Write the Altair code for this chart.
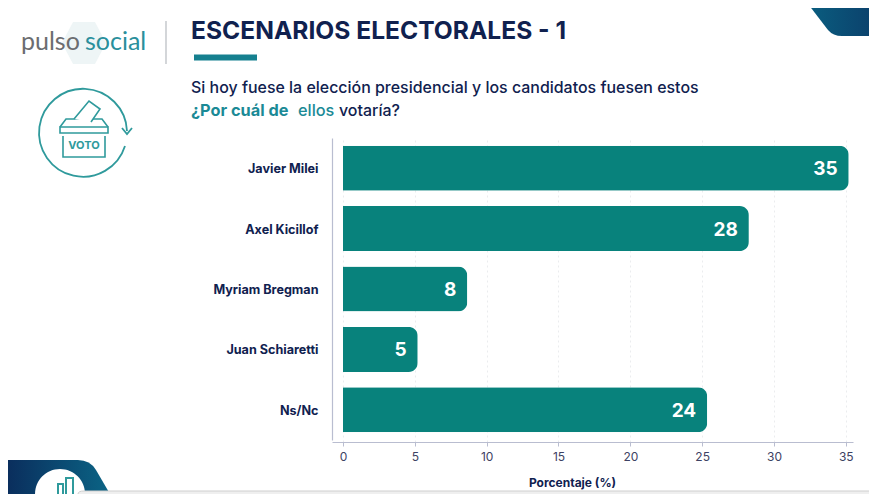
import altair as alt

names = ["Javier Milei", "Axel Kicillof", "Myriam Bregman", "Juan Schiaretti", "Ns/Nc"]
bar_lengths = [35.2, 28.25, 8.65, 5.2, 25.35]
value_labels = ["35", "28", "8", "5", "24"]
ticks = [0, 5, 10, 15, 20, 25, 30, 35]

NAVY = "#10214f"
TEAL = "#08827c"
ICON = "#2f9a9c"
FONT = "Inter"

# page position of the plot area's top-left corner
PX, PY = 332, 138
def px(v): return alt.value(v - PX)
def py(v): return alt.value(v - PY)
blank = alt.Data(values=[{"k": 1}])

def label(txt, x, y, size, color, weight="normal", align="left", font=FONT):
    return alt.Chart(blank).mark_text(text=txt, fontSize=size, color=color, fontWeight=weight,
                                      align=align, baseline="middle", font=font).encode(x=px(x), y=py(y))

def path(d, fill=None, stroke=None, width=1.0, opacity=1.0):
    kw = dict(shape=d, size=4, opacity=opacity, strokeWidth=width)
    kw["fill"] = fill if fill is not None else "transparent"
    kw["stroke"] = stroke if stroke is not None else "transparent"
    return alt.Chart(blank).mark_point(**kw).encode(x=px(0), y=py(0))

top_grad = alt.Gradient(gradient="linear", x1=0, x2=1, y1=0, y2=0,
                        stops=[alt.GradientStop(color="#0a5f80", offset=0), alt.GradientStop(color="#0b3f6b", offset=1)])
bot_grad = alt.Gradient(gradient="linear", x1=0, x2=1, y1=0, y2=0,
                        stops=[alt.GradientStop(color="#0a2a5a", offset=0), alt.GradientStop(color="#0b6485", offset=1)])

decor = [
    path("M805 0 L877 0 L877 36 L842 36 Q833 36 828 30 Z", fill=top_grad),
    path("M0 460 L78 460 Q90 460 96 470 L110 494 L0 494 Z", fill=bot_grad),
    path("M35 494 A25 25 0 0 1 85 494 Z", fill="#ffffff"),
    path("M58 494 L58 484 L63 484 L63 494 M66 494 L66 478 L73 478 L73 494", stroke=ICON, width=2),
    path("M78 494 L78 496 L877 496 L877 494 Q877 491 872 491 L84 491 Q78 491 78 494 Z", fill="#efefef", stroke="#cfcfcf"),
    # logo
    path("M73 22 L95 22 L106 43 L95 64 L73 64 L62 43 Z", fill="#eef5f6"),
    label("pulso", 21, 42, 25, "#6b6d70", font="Lato"),
    label("social", 85, 42, 25, "#2a8f9c", font="Lato"),
    path("M166 21 L166 64", stroke="#c9ccd0", width=1.6),
    # voting icon
    path("M125 146 A44 44 0 1 1 127 131", stroke=ICON, width=1.8),
    path("M122 128 L127 134 L132 128", stroke=ICON, width=1.8),
    path("M63 136 L63 157 L105 157 L105 136", stroke=ICON, width=1.6),
    path("M60 127 L108 127 L108 133 L60 133 Z", stroke=ICON, width=1.6),
    path("M60 127 L66 119 L102 119 L108 127", stroke=ICON, width=1.6),
    path("M74 119 L89 101 L100 109 L91 122", fill="#ffffff", stroke=ICON, width=1.6),
    label("VOTO", 84, 146, 11, ICON, "bold", "center"),
    # headings
    label("ESCENARIOS ELECTORALES - 1", 191, 32, 24.6, NAVY, "bold"),
    path("M194 57.5 L257 57.5", stroke="#15808f", width=6),
    label("Si hoy fuese la elección presidencial y los candidatos fuesen estos", 191, 88, 15.95, NAVY, 500),
    label("¿Por cuál de", 191, 111, 16.3, "#1b8a96", "bold"),
    label("ellos", 298, 111, 16.3, "#1b8a96", 500),
    label("votaría?", 339, 111, 15.95, NAVY, 500),
]

rows = alt.Data(values=[{"name": n, "bar": b, "lab": l} for n, b, l in zip(names, bar_lengths, value_labels)])

x_scale = alt.Scale(domain=[-0.765, 35.5], nice=False, zero=False)
y_scale = alt.Scale(domain=names, range=[0, 302])

x_axis = alt.Axis(values=ticks, title="Porcentaje (%)", grid=True, gridColor="#e6e7ea", gridDash=[2, 3],
                  gridWidth=0.8, domainColor="#b9bdd0", domainWidth=1.2, tickColor="#b9bdd0", tickSize=4,
                  labelColor="#3d4263", labelFontSize=12, labelFont=FONT, labelPadding=5, labelFlush=False,
                  titleColor=NAVY, titleFontSize=12, titleFont=FONT, titleFontWeight="bold", titlePadding=15,
                  titleX=240, titleAlign="center", titleAnchor="start")
y_axis = alt.Axis(title=None, grid=False, ticks=False, domainColor="#b9bdd0", domainWidth=1.2,
                  labelColor=NAVY, labelFontSize=12.6, labelFont=FONT, labelFontWeight="bold", labelPadding=14,
                  labelOffset=1)

bars = alt.Chart(rows).mark_bar(size=45, color=TEAL, cornerRadiusEnd=9).encode(
    x=alt.X("bar:Q", scale=x_scale, axis=x_axis),
    y=alt.Y("name:N", scale=y_scale, axis=y_axis, sort=names),
)
texts = alt.Chart(rows).mark_text(align="right", baseline="middle", dx=-11, dy=1, color="#ffffff",
                                  fontSize=19, fontWeight="bold", font=FONT).encode(
    x=alt.X("bar:Q", scale=x_scale),
    y=alt.Y("name:N", scale=y_scale, sort=names),
    text="lab:N",
)

chart = alt.layer(*decor, bars, texts).properties(
    width=521, height=304,
    padding={"left": PX - 8, "top": PY - 8, "right": 877 - 8 - PX - 521, "bottom": 486 - (PY - 8) - 304},
    autosize=alt.AutoSizeParams(type="none"),
    background="#ffffff",
).configure_view(stroke=None)

chart.save("out.html", embed_options={"renderer": "svg", "actions": False})
